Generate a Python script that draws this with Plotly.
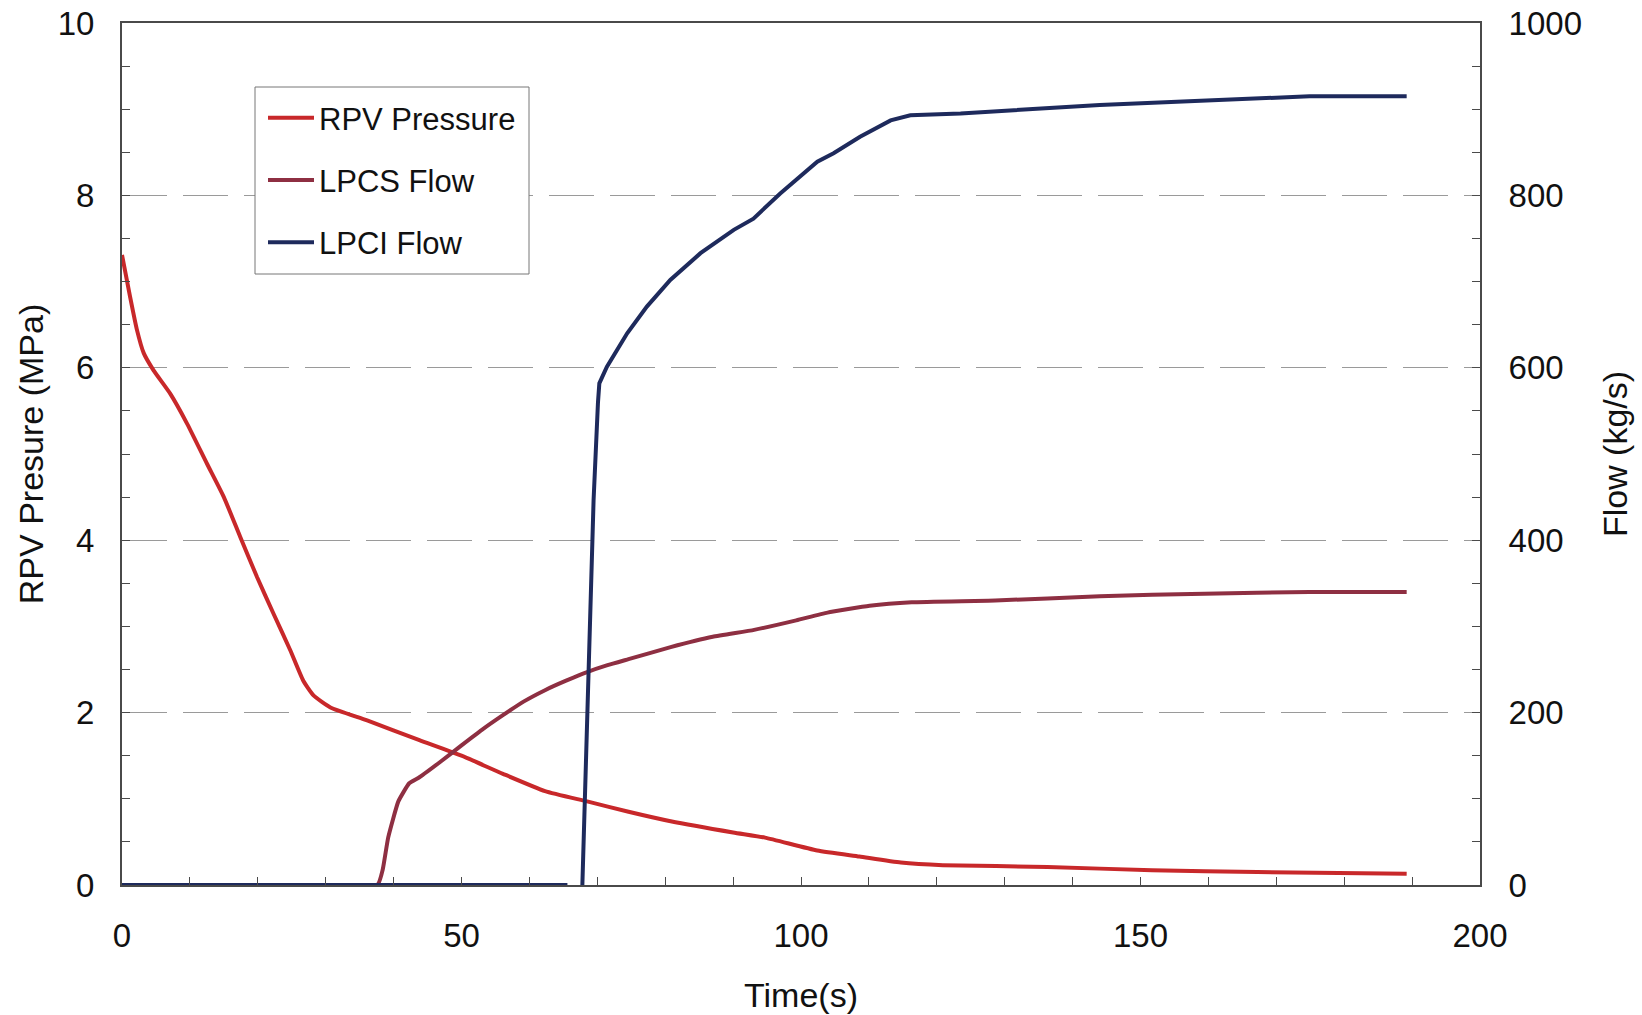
import plotly.graph_objects as go

# ---- data ----
rpv_t = [0, 1.2, 2.2, 3.2, 4.65, 7.1, 9.6, 12.5, 15.0, 17.4, 19.9, 22.3, 24.8, 26.7, 28.2, 30.7,
         36.1, 43.8, 50.0, 56.1, 62.3, 68.5, 74.6, 80.8, 90.0, 94.7, 102.4, 108.6, 114.7, 120.9,
         136.3, 151.7, 167.2, 189.2]
rpv_p = [7.31, 6.82, 6.44, 6.17, 5.97, 5.70, 5.35, 4.89, 4.50, 4.04, 3.57, 3.15, 2.72, 2.37, 2.20, 2.06,
         1.91, 1.68, 1.50, 1.29, 1.09, 0.97, 0.85, 0.74, 0.61, 0.55, 0.40, 0.33, 0.26, 0.23,
         0.21, 0.17, 0.15, 0.13]

lpcs_t = [0, 37.6, 38.4, 39.2, 40.7, 42.3, 43.8, 46.9, 50.0, 53.0, 56.1, 59.2, 62.3, 65.4, 68.5,
          71.5, 74.6, 80.8, 87.0, 93.1, 99.3, 103.9, 110.1, 116.3, 128.6, 144.0, 159.4, 174.9, 189.2]
lpcs_f = [0, 0, 18, 55, 97, 118, 125, 143, 162, 180, 197, 213, 226, 237, 247,
          255, 262, 276, 288, 296, 307, 316, 324, 328, 330, 335, 338, 340, 340]

lpci_t = [0, 65.6, None, 67.8, 69.45, 70.1, 70.3, 71.4, 74.4, 77.3, 80.75, 85.2, 90.1, 93.0, 96.9,
          102.4, 104.8, 108.7, 113.2, 116.1, 123.5, 144.0, 159.4, 174.9, 189.2]
lpci_f = [0, 0, None, 0, 446, 560, 582, 601, 640, 671, 702, 733, 760, 773, 802,
          839, 849, 868, 887, 893, 895, 905, 910, 915, 915]

x_ticks = [0, 50, 100, 150, 200]
y_ticks = [0, 2, 4, 6, 8, 10]
y2_ticks = [0, 200, 400, 600, 800, 1000]

FONT = "Liberation Sans, Arial, sans-serif"
AX = "#4a4a4a"
W, H = 1642, 1015
ML, MR, MT, MB = 122, 162, 23, 130
PW, PH = W - ML - MR, H - MT - MB
TICK_FS, TITLE_FS = 33, 34

fig = go.Figure()
fig.add_trace(go.Scatter(x=rpv_t, y=rpv_p, mode="lines", name="RPV Pressure",
                         line=dict(color="#C8282A", width=4, shape="spline", smoothing=0.5),
                         legendgroup="a"))
fig.add_trace(go.Scatter(x=lpcs_t, y=lpcs_f, mode="lines", name="LPCS Flow", yaxis="y2",
                         line=dict(color="#8E2F42", width=4, shape="spline", smoothing=0.4),
                         legendgroup="b"))
fig.add_trace(go.Scatter(x=lpci_t, y=lpci_f, mode="lines", name="LPCI Flow", yaxis="y2",
                         line=dict(color="#1E2A5C", width=4), legendgroup="c",
                         connectgaps=False))

# legend frame (box drawn as a shape so that its padding matches the reference)
box_x0, box_x1, box_y0, box_y1 = 255, 529, 87, 274
fig.add_shape(type="rect", xref="paper", yref="paper", layer="above",
              x0=(box_x0 - ML) / PW, x1=(box_x1 - ML) / PW,
              y0=1 - (box_y1 - MT) / PH, y1=1 - (box_y0 - MT) / PH,
              line=dict(color="#777777", width=1), fillcolor="white")

fig.update_layout(
    width=W, height=H,
    margin=dict(l=ML, r=MR, t=MT, b=MB),
    paper_bgcolor="white", plot_bgcolor="white",
    font=dict(family=FONT, size=TICK_FS, color="#111111"),
    showlegend=True,
    legend=dict(x=(263 - ML) / PW, y=0.921, xanchor="left", yanchor="top",
                bgcolor="rgba(0,0,0,0)", borderwidth=0, itemwidth=46,
                font=dict(size=31, family=FONT), tracegroupgap=19,
                traceorder="grouped"),
    xaxis=dict(range=[0, 200], tickvals=x_ticks, ticks="inside", ticklen=8,
               tickcolor=AX, showline=True, linecolor=AX, linewidth=2, mirror=True,
               showgrid=False, zeroline=False, ticklabelstandoff=20, automargin=False,
               ticklabeloverflow="allow",
               minor=dict(dtick=10, ticks="inside", ticklen=8, tickcolor=AX),
               title=dict(text="Time(s)", standoff=31, font=dict(size=TITLE_FS))),
    yaxis=dict(range=[0, 10], tickvals=y_ticks, ticks="inside", ticklen=8,
               tickcolor=AX, showline=True, linecolor=AX, linewidth=2, mirror=True,
               showgrid=True, gridcolor="#9a9a9a", gridwidth=1, griddash="45px,16px",
               zeroline=False, ticklabelstandoff=19, automargin=False,
               ticklabeloverflow="allow",
               minor=dict(dtick=0.5, ticks="inside", ticklen=8, tickcolor=AX),
               title=dict(text="RPV Presure (MPa)", standoff=4, font=dict(size=TITLE_FS))),
    yaxis2=dict(range=[0, 1000], tickvals=y2_ticks, overlaying="y", side="right",
                ticks="inside", ticklen=8, tickcolor=AX, showline=True, linecolor=AX,
                linewidth=2, showgrid=False, zeroline=False, ticklabelstandoff=20,
                automargin=False, ticklabeloverflow="allow",
                minor=dict(dtick=50, ticks="inside", ticklen=8, tickcolor=AX),
                title=dict(text="Flow (kg/s)", standoff=22, font=dict(size=TITLE_FS))),
)

# remove the default 8px page margin so the figure fills the window exactly
fig.write_html("out.html", config={"displayModeBar": False},
               post_script="document.body.style.margin='0px';")
